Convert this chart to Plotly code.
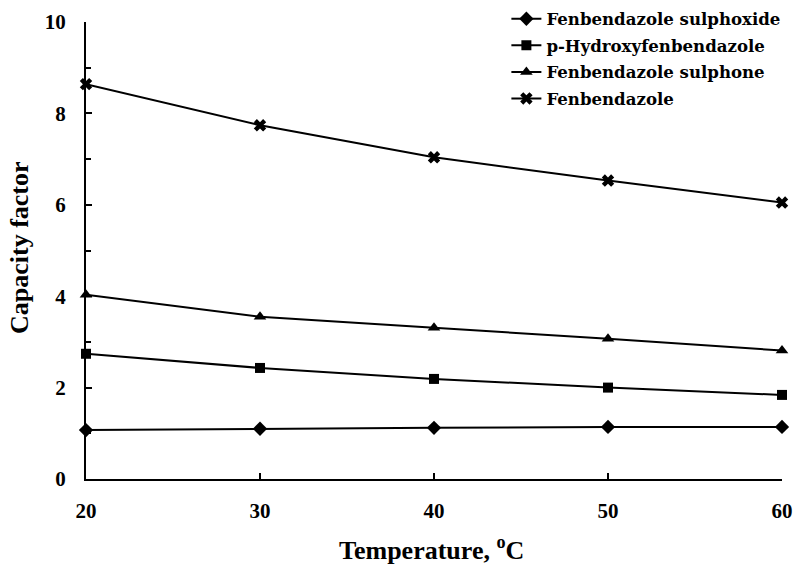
import plotly.graph_objects as go

temperature = [20, 30, 40, 50, 60]
sulphoxide = [1.07, 1.10, 1.12, 1.14, 1.14]
hydroxy = [2.74, 2.43, 2.19, 2.00, 1.84]
sulphone = [4.03, 3.55, 3.31, 3.07, 2.81]
fenbendazole = [8.64, 7.74, 7.04, 6.53, 6.05]

names = ["Fenbendazole sulphoxide", "p-Hydroxyfenbendazole",
         "Fenbendazole sulphone", "Fenbendazole"]
series = [sulphoxide, hydroxy, sulphone, fenbendazole]
symbols = ["diamond", "square", "triangle-up", "x"]
sizes = [11, 10, 11, 11]

fig = go.Figure()
for i, (name, vals, sym, sz) in enumerate(zip(names, series, symbols, sizes)):
    fig.add_trace(go.Scatter(
        x=temperature, y=vals, name=name, mode="lines+markers",
        legendgroup="g%d" % i,
        line=dict(color="black", width=2),
        marker=dict(symbol=sym, size=sz, color="black"),
        cliponaxis=False,
    ))

font_family = "Liberation Serif, Times New Roman, serif"
legend_family = "DejaVu Serif, serif"

fig.add_annotation(text="Temperature, <sup>o</sup>C", xref="paper", yref="paper",
                   x=0.497, y=-0.153, xanchor="center", yanchor="middle",
                   showarrow=False, font=dict(size=26, weight="bold"))
fig.add_annotation(text="Capacity factor", xref="paper", yref="paper",
                   x=-0.0948, y=0.5055, xanchor="center", yanchor="middle",
                   textangle=-90, showarrow=False,
                   font=dict(size=26, weight="bold"))

fig.update_layout(
    width=796, height=565,
    margin=dict(l=86, r=14, t=22, b=86, autoexpand=False),
    plot_bgcolor="white", paper_bgcolor="white",
    font=dict(family=font_family, color="black", size=16),
    showlegend=True,
    legend=dict(x=0.604, y=1.045, xanchor="left", yanchor="top",
                bgcolor="rgba(0,0,0,0)", tracegroupgap=2,
                font=dict(size=16.6, family=legend_family, weight="bold"),
                itemwidth=30),
    xaxis=dict(range=[20, 60], tickvals=[20, 30, 40, 50, 60],
               automargin=False,
               showgrid=False, zeroline=False, showline=True,
               linecolor="black", linewidth=2, ticks="inside",
               ticklen=6, tickwidth=2, tickcolor="black",
               ticklabelstandoff=12,
               tickfont=dict(size=21, weight="bold")),
    yaxis=dict(range=[0, 10], tickvals=[0, 2, 4, 6, 8, 10],
               automargin=False,
               showgrid=False, zeroline=False, showline=True,
               linecolor="black", linewidth=2, ticks="inside",
               ticklen=6, tickwidth=2, tickcolor="black",
               ticklabelstandoff=14,
               minor=dict(dtick=1, ticks="inside", ticklen=5,
                          tickwidth=1.5, tickcolor="black", showgrid=False),
               tickfont=dict(size=21, weight="bold")),
)

fig.write_html(
    "out.html",
    config={"displayModeBar": False},
    post_script="document.body.style.margin='0px';document.body.style.overflow='hidden';",
)
